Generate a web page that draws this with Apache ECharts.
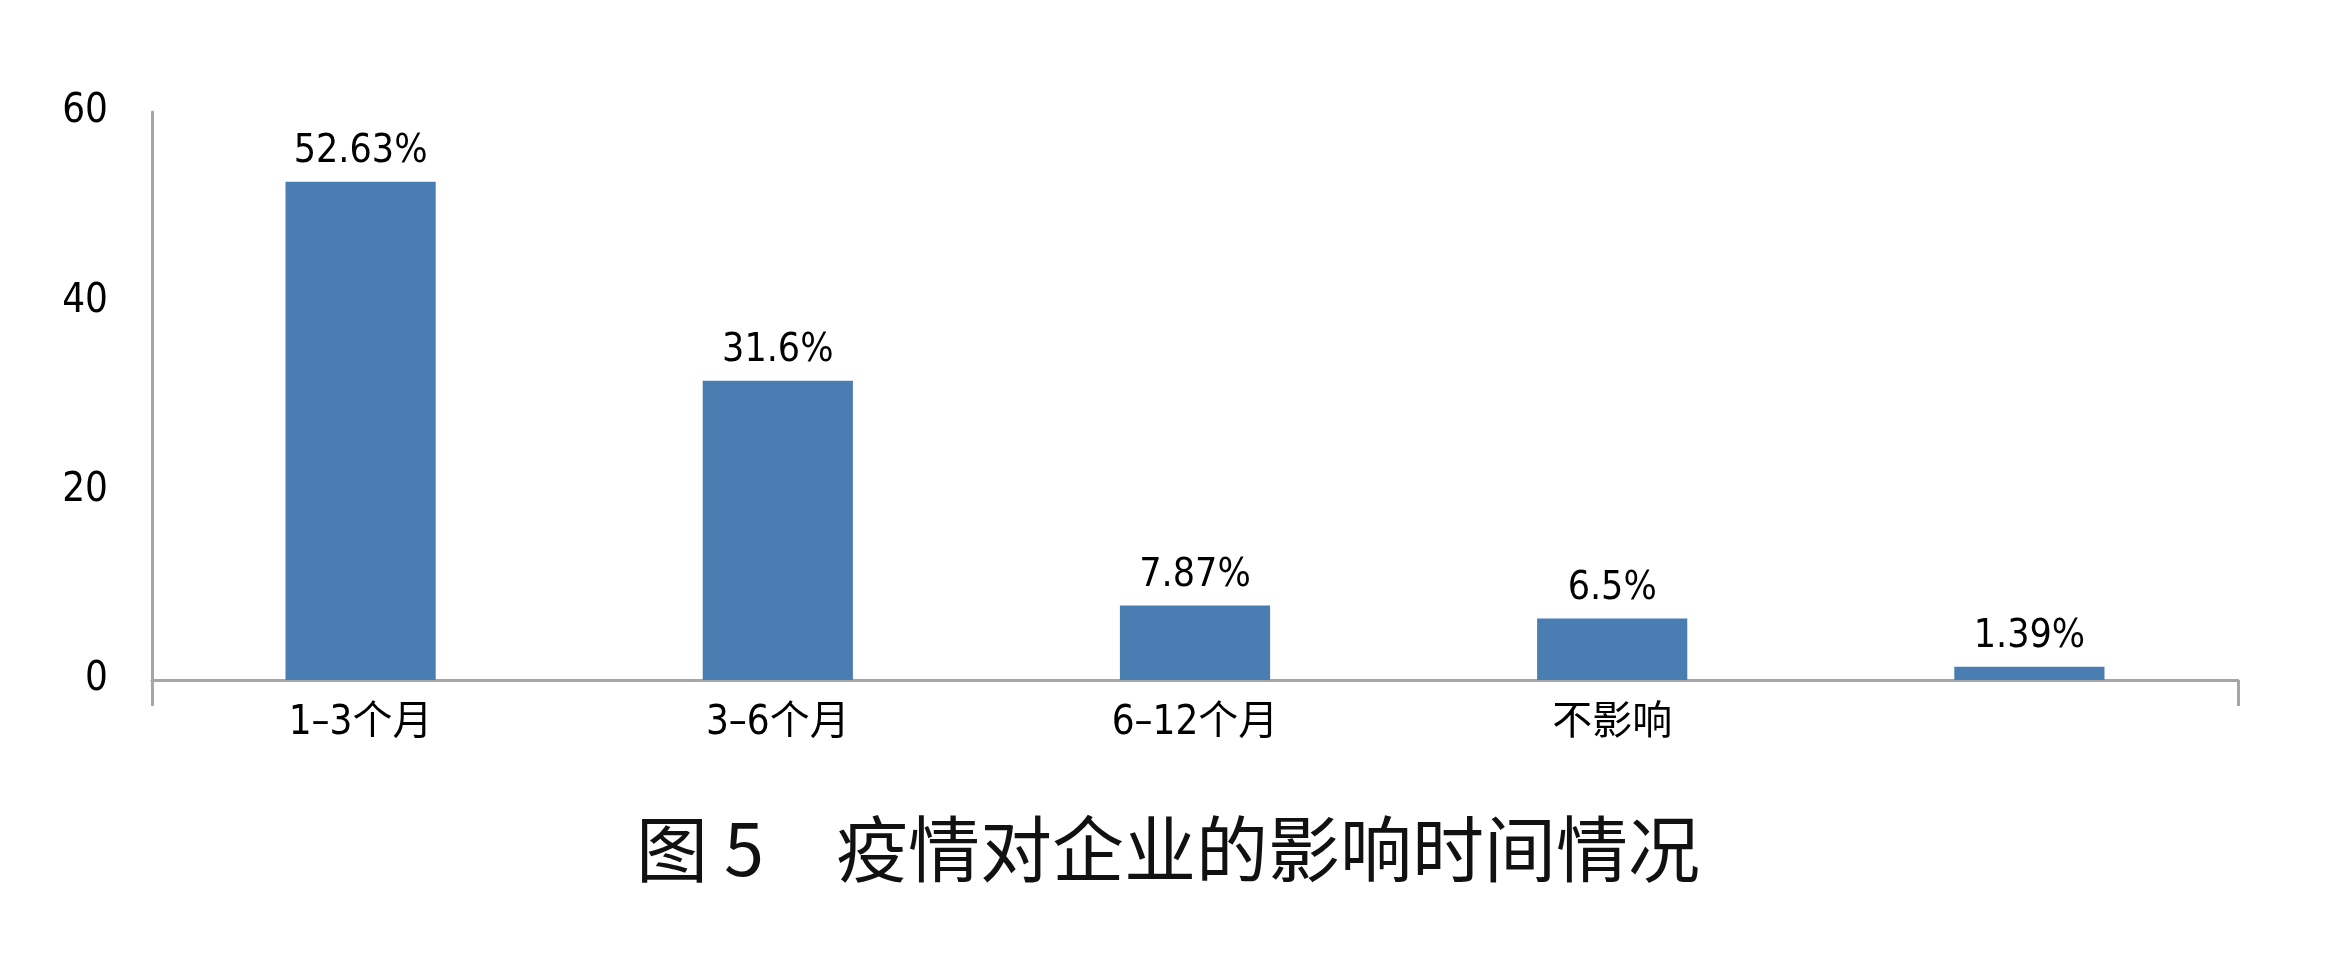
<!DOCTYPE html>
<html>
<head>
<meta charset="utf-8">
<script src="https://cdn.jsdelivr.net/npm/echarts@6/dist/echarts.min.js"></script>
<style>html,body{margin:0;padding:0;background:#fff}#c{width:2336px;height:964px}</style>
</head>
<body>
<div id="c"></div>
<script>
const categories = ['1–3个月', '3–6个月', '6–12个月', '不影响', ''];
const values = [52.63, 31.6, 7.87, 6.5, 1.39];
const yTicks = [0, 20, 40, 60];
const titleText = '图 5\u3000疫情对企业的影响时间情况';

const narrow = "'Liberation Sans Narrow','DejaVu Sans Condensed','Noto Sans CJK SC',sans-serif";
const chart = echarts.init(document.getElementById('c'), null, {renderer: 'canvas'});
chart.setOption({
  animation: false,
  backgroundColor: '#ffffff',
  title: {
    text: titleText,
    left: 'center',
    top: 808,
    textStyle: {fontFamily: "'Noto Sans CJK SC',sans-serif", fontSize: 72, fontWeight: 'normal', color: '#111'}
  },
  grid: {left: 152, right: 98, top: 112, bottom: 284, containLabel: false},
  xAxis: {
    type: 'category',
    data: categories,
    boundaryGap: true,
    axisLine: {show: true, lineStyle: {color: '#a6a6a6', width: 3}},
    axisTick: {show: true, length: 26, interval: (i) => i === 0, lineStyle: {color: '#a6a6a6', width: 3}},
    axisLabel: {fontFamily: narrow, fontSize: 40, color: '#000', margin: 24}
  },
  yAxis: {
    type: 'value',
    min: yTicks[0],
    max: yTicks[yTicks.length - 1],
    interval: 20,
    splitLine: {show: false},
    axisLine: {show: true, lineStyle: {color: '#a6a6a6', width: 3}},
    axisTick: {show: false},
    axisLabel: {fontFamily: narrow, fontSize: 40, color: '#000', margin: 44}
  },
  series: [{
    type: 'bar',
    data: values,
    barWidth: '36%',
    itemStyle: {color: '#4a7db1'},
    label: {
      show: true,
      position: 'top',
      distance: 10,
      formatter: '{c}%',
      fontFamily: narrow,
      fontSize: 39,
      color: '#000'
    }
  }]
});
</script>
</body>
</html>
